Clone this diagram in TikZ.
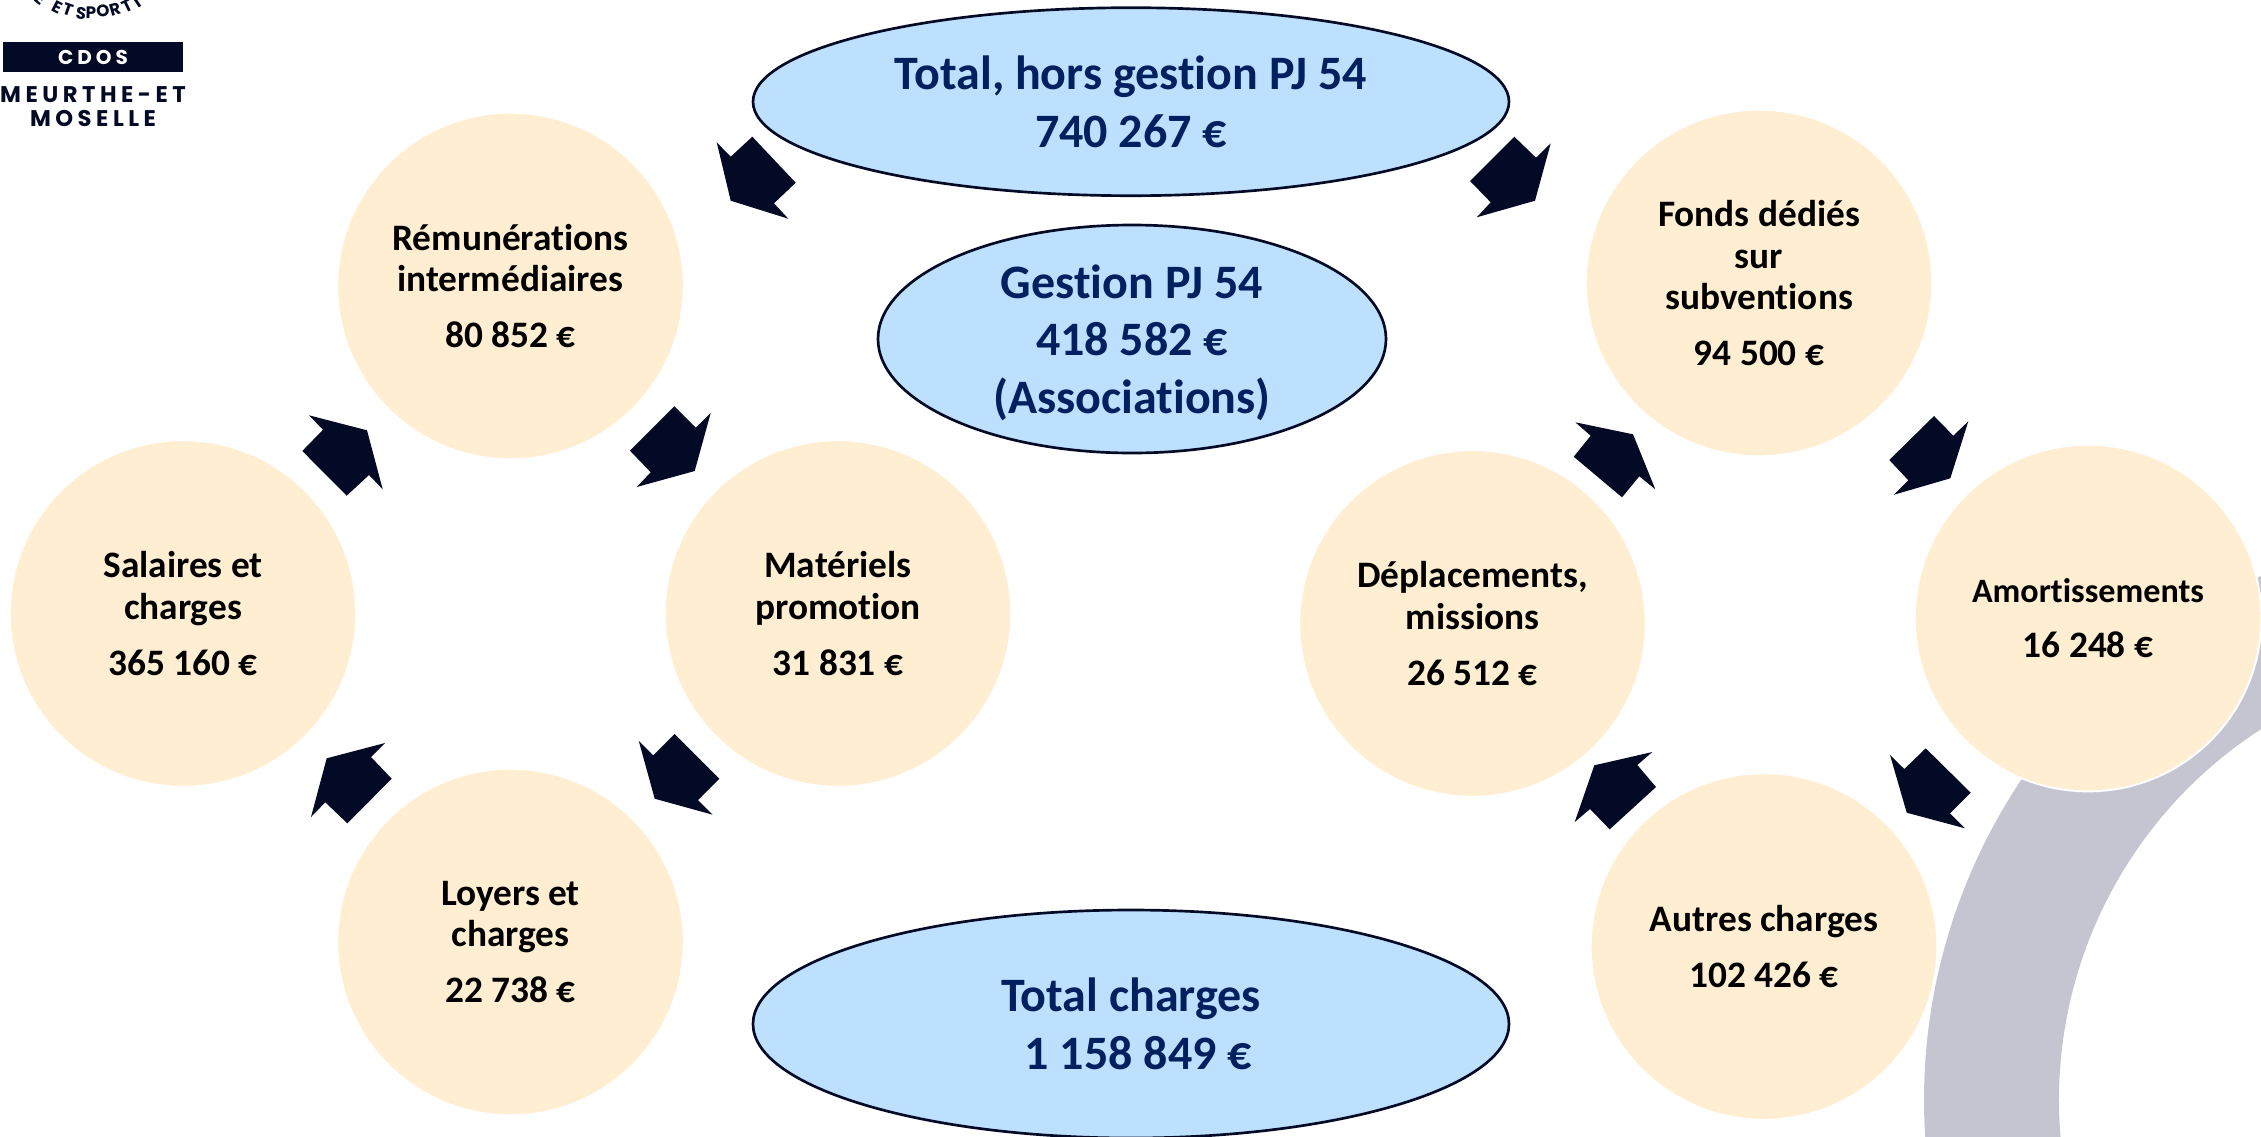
\documentclass[tikz,border=0pt]{standalone}
\usepackage{xcolor}
\usepackage{fontspec}
\setmainfont[Ligatures=NoCommon]{Carlito}
\newfontfamily\logofont[LetterSpace=20]{Poppins}
\newfontfamily\logocurve{Poppins}
\usetikzlibrary{shapes.geometric}
\definecolor{bandgray}{RGB}{197,197,210}
\definecolor{logonavy}{RGB}{3,10,38}
\definecolor{titlenavy}{RGB}{0,32,96}
\definecolor{circlecream}{RGB}{255,238,210}
\definecolor{ellipseblue}{RGB}{189,224,254}
\tikzset{
  chargecircle/.style={circle,fill=circlecream,draw=white,line width=1.5pt,minimum size=260pt,inner sep=0pt,align=center,font=\bfseries\fontsize{28}{31.4}\selectfont,text=black},
  totalellipse/.style={ellipse,fill=ellipseblue,draw=logonavy,line width=2pt,inner sep=0pt,align=center,font=\bfseries\fontsize{36}{43.3}\selectfont,text=titlenavy},
  arrowblock/.style={fill=logonavy,draw=none},
  logoletter/.style={inner sep=0pt,text=logonavy,font=\logocurve\bfseries\fontsize{12.5}{12.5}\selectfont},
  logoline/.style={inner sep=0pt,text=logonavy,font=\logofont\bfseries\fontsize{17}{17}\selectfont}
}
\begin{document}
\begin{tikzpicture}[x=0.75pt,y=0.75pt,yscale=-1,xscale=1]
\useasboundingbox (0,0) rectangle (2261,1136);

%Shape: Band
\fill [bandgray] (1925.4,1140.2) arc [start angle=176,end angle=246,radius=576] -- (2320.6,697) arc [start angle=246,end angle=174,radius=441] -- cycle ;

%Shape: Logo
\fill [logonavy] (3.3,42.3) rectangle (183,72.3) ;
\node (cdos) [logoline,text=white,font=\logofont\bfseries\fontsize{15}{15}\selectfont] at (93,57.3) {CDOS};
\node (meurthe) [logoline] at (93,95) {MEURTHE-ET};
\node (moselle) [logoline] at (93,118.5) {MOSELLE};
\foreach \ch/\x/\y/\ang in {E/41/-1/-38,E/57/7/-27,T/68/10/-19,S/81/13/-9,P/91/13/-1,O/103/11/7,R/115/9/16,T/127/6/26,I/137/2/34}
  \node [logoletter,rotate=\ang] at (\x,\y) {\ch};

%Shape: Ellipses
\node (total) [totalellipse,minimum width=567pt,minimum height=141pt] at (1131,101.7) {Total, hors gestion PJ 54\\740 267 €};
\node (gestion) [totalellipse,minimum width=381pt,minimum height=171pt] at (1132,339) {Gestion PJ 54\\418 582 €\\\smash{(Associations)}};
\node (charges) [totalellipse,minimum width=567pt,minimum height=171pt] at (1131,1024) {Total charges\\\hspace*{0.3em}1 158 849 €};

%Shape: Circles
\node (remun) [chargecircle] at (510.5,286) {Rémunérations\\intermédiaires\\[10.5pt]80 852 €};
\node (salaires) [chargecircle] at (183,613.5) {Salaires et\\charges\\[10.5pt]365 160 €};
\node (materiels) [chargecircle] at (838,613.5) {Matériels\\promotion\\[10.5pt]31 831 €};
\node (loyers) [chargecircle] at (510.5,942) {Loyers et\\charges\\[10.5pt]22 738 €};
\node (fonds) [chargecircle] at (1759,283) {Fonds dédiés\\sur\\subventions\\[10.5pt]94 500 €};
\node (deplacements) [chargecircle] at (1472.5,623.5) {Déplacements,\\missions\\[10.5pt]26 512 €};
\node (amort) [chargecircle] at (2088,618) {\fontsize{25.6}{31.4}\selectfont Amortissements\\[10pt]\fontsize{28}{31.4}\selectfont 16 248 €};
\node (autres) [chargecircle] at (1764,946.5) {Autres charges\\[10.5pt]102 426 €};

%Shape: Block arrows
\fill [arrowblock] (730.7,200.7) -- (716.7,142.3) -- (730.7,156.7) -- (752.3,136.7) -- (795.7,182.7) -- (774,203.3) -- (788.3,218.7) -- cycle ;
\fill [arrowblock] (1535,200.7) -- (1550.7,143.3) -- (1536,157.7) -- (1514.3,136.7) -- (1470,181) -- (1490.7,202.3) -- (1476.7,217.3) -- cycle ;
\fill [arrowblock] (367,430.3) -- (309,415.3) -- (323,429.7) -- (302.3,451) -- (346.7,495.7) -- (369,475) -- (382.7,489.3) -- cycle ;
\fill [arrowblock] (694.7,471) -- (710.7,413) -- (695.7,427.7) -- (674.3,406.3) -- (630,450.7) -- (650.7,472.3) -- (636.7,487) -- cycle ;
\fill [arrowblock] (654.7,798.7) -- (638.7,740.7) -- (653.3,755.3) -- (674.7,734) -- (719.3,778.7) -- (698,800) -- (712.7,814.7) -- cycle ;
\fill [arrowblock] (326.7,758.3) -- (385,743) -- (371,757) -- (391.7,778.7) -- (347.3,823.3) -- (325.3,802.3) -- (311,817) -- cycle ;
\fill [arrowblock] (1633,434.3) -- (1575.3,422.3) -- (1590.7,435.7) -- (1573.7,456.7) -- (1622,497.3) -- (1639.3,476.3) -- (1655.3,489.3) -- cycle ;
\fill [arrowblock] (1950.3,478.3) -- (1968.3,421.3) -- (1953.3,435.7) -- (1934,416) -- (1889.3,460) -- (1908.3,480.3) -- (1894,494.7) -- cycle ;
\fill [arrowblock] (1906.7,812.7) -- (1890,755) -- (1904.3,769) -- (1925.7,748.3) -- (1970.7,792.7) -- (1950,813.3) -- (1965,828.3) -- cycle ;
\fill [arrowblock] (1594.3,765.3) -- (1652.3,752) -- (1637.3,765) -- (1656,787) -- (1609.7,829.3) -- (1590,809) -- (1574.7,822) -- cycle ;

\end{tikzpicture}
\end{document}
